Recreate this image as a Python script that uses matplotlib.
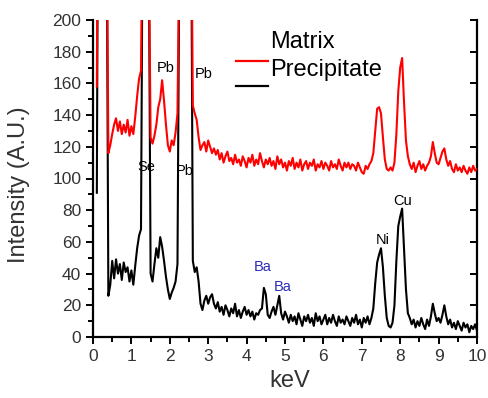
import numpy as np
import matplotlib.pyplot as plt
from matplotlib.ticker import MultipleLocator

plt.rcParams['font.family'] = ['Liberation Sans', 'DejaVu Sans']

# energy channels, 0.10 .. 10.00 keV every 0.05 keV
energy = np.round(np.linspace(0.10, 10.0, 199), 2)

# Precipitate (black) spectrum
precipitate = [
    91, 420, 460, 430, 380, 300, 26, 33, 48, 37,
    49, 40, 46, 36, 47, 41, 44, 35, 42, 33,
    45, 56, 64, 68, 300, 380, 350, 260, 40, 35,
    46, 56, 50, 63, 57, 48, 38, 30, 24, 28,
    31, 35, 46, 250, 420, 460, 440, 400, 380, 300,
    48, 41, 44, 35, 21, 17, 23, 26, 21, 25,
    27, 21, 18, 22, 16, 19, 14, 20, 17, 13,
    18, 15, 21, 13, 17, 12, 16, 19, 14, 17,
    13, 16, 11, 15, 14, 17, 18, 31, 27, 14,
    12, 16, 19, 14, 20, 26, 15, 11, 16, 13,
    9, 14, 10, 13, 8, 15, 11, 7, 13, 10,
    14, 9, 12, 7, 15, 10, 13, 8, 11, 14,
    8, 12, 9, 14, 10, 7, 13, 9, 11, 8,
    13, 10, 7, 12, 9, 14, 8, 11, 6, 12,
    9, 13, 8, 12, 18, 34, 47, 52, 56, 44,
    26, 12, 7, 6, 9, 20, 48, 70, 76, 81,
    56, 30, 15, 12, 8, 11, 6, 10, 7, 12,
    8, 5, 11, 7, 13, 21, 15, 10, 12, 9,
    14, 20, 13, 8, 11, 6, 9, 5, 10, 7,
    4, 9, 6, 8, 3, 7, 5, 8, 4,
]

# Matrix (red) spectrum
matrix = [
    158, 420, 460, 430, 380, 300, 116, 121, 128, 134,
    138, 130, 136, 128, 134, 129, 137, 127, 133, 128,
    139, 152, 163, 168, 300, 380, 350, 260, 126, 122,
    127, 134, 145, 150, 162, 149, 134, 121, 117, 124,
    121, 129, 141, 250, 420, 460, 440, 400, 380, 300,
    146, 141, 137, 126, 118, 121, 123, 117, 124, 120,
    116, 119, 115, 118, 112, 116, 110, 114, 117, 111,
    113, 109, 115, 110, 112, 108, 114, 111, 107, 113,
    110, 115, 108, 112, 109, 116, 111, 107, 112, 109,
    113, 108, 111, 106, 114, 109, 112, 107, 110, 105,
    111, 108, 113, 106, 110, 107, 112, 105, 109, 111,
    106, 110, 108, 112, 105, 109, 107, 111, 106, 110,
    108, 105, 111, 107, 109, 106, 112, 108, 105, 110,
    107, 110, 106, 109, 108, 105, 110, 107, 104, 103,
    108, 106, 109, 111, 116, 130, 144, 145, 141, 126,
    112, 106, 105, 107, 105, 110, 128, 155, 170, 176,
    148, 124, 114, 109, 106, 110, 104, 108, 111, 106,
    109, 105, 108, 110, 114, 123, 116, 110, 109, 113,
    117, 119, 112, 108, 111, 106, 104, 109, 105, 107,
    104, 108, 105, 103, 107, 104, 108, 105, 106,
]

# peak labels: text, x, y, colour
peak_labels = ["Pb", "Pb", "Se", "Pb", "Ba", "Ba", "Ni", "Cu"]
peak_x = [1.88, 2.89, 1.38, 2.40, 4.43, 4.95, 7.55, 8.07]
peak_y = [170, 166, 107, 105, 44, 31.5, 61, 86]
peak_colors = ["black", "black", "black", "black", "#2b2bb8", "#2b2bb8", "black", "black"]

fig = plt.figure(figsize=(4.89, 3.98), dpi=100)
ax = fig.add_axes([93 / 489, 61 / 398, 384 / 489, 317 / 398])

ax.plot(energy, precipitate, color="black", lw=1.5, zorder=2)
ax.plot(energy, matrix, color="#ff0000", lw=1.5, zorder=3)

for t, x, y, c in zip(peak_labels, peak_x, peak_y, peak_colors):
    ax.text(x, y, t, color=c, fontsize=10.5, ha="center", va="center", zorder=1)

ax.set_xlim(0, 10)
ax.set_ylim(0, 200)
ax.xaxis.set_major_locator(MultipleLocator(1))
ax.xaxis.set_minor_locator(MultipleLocator(0.5))
ax.yaxis.set_major_locator(MultipleLocator(20))
ax.yaxis.set_minor_locator(MultipleLocator(10))

ax.spines["top"].set_visible(False)
for s in ["left", "bottom", "right"]:
    ax.spines[s].set_linewidth(1.6)
ax.tick_params(which="both", direction="out", width=1.4, labelsize=12.5,
               labelcolor="#333333", right=False)
ax.tick_params(which="major", length=5)
ax.tick_params(which="minor", length=3.5)

# inward ticks on the right spine at the major positions
ax2 = ax.twinx()
ax2.set_ylim(ax.get_ylim())
ax2.yaxis.set_major_locator(MultipleLocator(20))
ax2.tick_params(direction="in", length=5, width=1.4, labelright=False)
for s in ax2.spines.values():
    s.set_visible(False)

ax.set_xlabel("keV", fontsize=17, color="#333333")
ax.set_ylabel("Intensity (A.U.)", fontsize=17, color="#333333")
ax.xaxis.set_label_coords(0.513, -0.105)
ax.yaxis.set_label_coords(-0.165, 0.48)

# legend drawn by hand to keep the offset look of the original
ax.plot([0.372, 0.456], [0.871, 0.871], color="#ff0000", lw=1.6, transform=ax.transAxes)
ax.plot([0.372, 0.456], [0.792, 0.792], color="black", lw=1.6, transform=ax.transAxes)
ax.text(0.462, 0.931, "Matrix", fontsize=17, va="center", transform=ax.transAxes)
ax.text(0.462, 0.843, "Precipitate", fontsize=17, va="center", transform=ax.transAxes)

fig.savefig("out.png", dpi=100)
